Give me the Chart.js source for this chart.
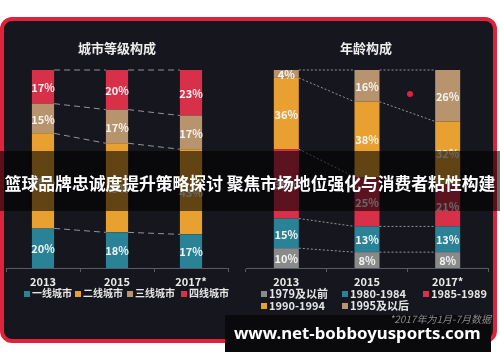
<!DOCTYPE html>
<html><head><meta charset="utf-8">
<script src="https://cdn.jsdelivr.net/npm/chart.js@4/dist/chart.umd.min.js"></script>
<style>
html,body{margin:0;padding:0;}
body{width:500px;height:362px;background:#fff;position:relative;overflow:hidden;font-family:"Noto Sans CJK SC","Noto Sans",sans-serif;}
#panel{position:absolute;left:0;top:17px;width:497px;height:326px;box-sizing:border-box;background:#16161e;border:4px solid #e0233a;border-radius:12px;}
canvas{position:absolute;top:0;}
#ca{left:0;}
#cb{left:240px;}
.t{position:absolute;color:#eeeeee;font-weight:bold;white-space:nowrap;line-height:1;}
.title{font-size:13px;top:41px;transform:translateX(-50%);}
.sq{position:absolute;width:6px;height:6px;}
.lg{position:absolute;color:#e6e6e6;font-weight:bold;white-space:nowrap;line-height:1;}
#banner{position:absolute;left:0;top:151px;width:500px;height:60px;background:rgba(0,0,0,0.58);}
#bannerText{position:absolute;left:-10px;width:520px;top:175px;text-align:center;color:#fff;font-weight:bold;font-size:16.8px;line-height:1;white-space:nowrap;}
#wmbox{position:absolute;left:225px;top:315px;width:266px;height:37px;background:#0a0a0c;}
#wm{position:absolute;left:234px;top:325px;color:#fff;font-family:"Noto Sans",sans-serif;font-weight:bold;font-size:16.8px;line-height:1;white-space:nowrap;}
#note{position:absolute;right:9px;top:314px;color:#8a8a8a;font-style:italic;font-size:10px;line-height:1;white-space:nowrap;}
#dot{position:absolute;left:407px;top:91px;width:6px;height:6px;border-radius:50%;background:#e0233a;}
</style>
</head><body>
<div id="panel"></div>
<canvas id="ca" width="240" height="362"></canvas>
<canvas id="cb" width="260" height="362"></canvas>
<div id="dot"></div>
<div class="t title" style="left:117px;">城市等级构成</div>
<div class="t title" style="left:366px;">年龄构成</div>
<div id="legends"></div>
<div id="banner"></div>
<div id="bannerText">篮球品牌忠诚度提升策略探讨 聚焦市场地位强化与消费者粘性构建</div>
<div id="wmbox"></div>
<div id="note">*2017年为1月-7月数据</div>
<div id="wm">www.net-bobboyusports.com</div>
<script>
// ---- data ----
const cityYears = ['2013', '2015', '2017*'];
const cityTier1 = [20, 18, 17];
const cityTier2 = [48, 45, 43];
const cityTier3 = [15, 17, 17];
const cityTier4 = [17, 20, 23];
const cityNames = ['一线城市', '二线城市', '三线城市', '四线城市'];

const ageYears = ['2013', '2015', '2017*'];
const age1979 = [10, 8, 8];
const age1980 = [15, 13, 13];
const age1985 = [35, 25, 21];
const age1990 = [36, 38, 32];
const age1995 = [4, 16, 26];
const ageNames = ['1979及以前', '1980-1984', '1985-1989', '1990-1994', '1995及以后'];

// ---- styles ----
const C_TEAL = '#2a8296', C_ORANGE = '#e8a030', C_TAN = '#b8946e', C_RED = '#d9304a', C_GRAY = '#8a8a8a';
const FONT = '"Noto Sans CJK SC","Noto Sans",sans-serif';

function connector(dash, color) {
  return {
    id: 'conn',
    afterDatasetsDraw(chart) {
      const ctx = chart.ctx;
      ctx.save();
      ctx.setLineDash(dash);
      ctx.strokeStyle = color;
      ctx.lineWidth = 1;
      chart.data.datasets.forEach((ds, di) => {
        const meta = chart.getDatasetMeta(di);
        for (let i = 0; i < meta.data.length - 1; i++) {
          const a = meta.data[i], b = meta.data[i + 1];
          ctx.beginPath();
          ctx.moveTo(a.x + a.width / 2, a.y);
          ctx.lineTo(b.x - b.width / 2, b.y);
          ctx.stroke();
        }
      });
      ctx.restore();
    }
  };
}
const labelPlugin = {
  id: 'lbl',
  afterDatasetsDraw(chart) {
    const ctx = chart.ctx;
    ctx.save();
    ctx.font = 'bold 11px ' + FONT;
    ctx.fillStyle = '#f4f4f4';
    ctx.textAlign = 'center';
    ctx.textBaseline = 'middle';
    chart.data.datasets.forEach((ds, di) => {
      const meta = chart.getDatasetMeta(di);
      meta.data.forEach((el, i) => {
        ctx.fillText(ds.data[i] + '%', el.x, (el.y + el.base) / 2 + 1);
      });
    });
    ctx.restore();
  }
};

function makeChart(id, labels, datasets, dash, padL, padR, barPct) {
  return new Chart(document.getElementById(id), {
    type: 'bar',
    data: { labels, datasets },
    options: {
      responsive: false, animation: false,
      layout: { padding: { left: padL, right: padR, top: 70, bottom: 64 } },
      plugins: { legend: { display: false }, tooltip: { enabled: false } },
      datasets: { bar: { categoryPercentage: 1, barPercentage: barPct } },
      scales: {
        x: {
          stacked: true,
          grid: { display: true, offset: true, drawOnChartArea: false, drawTicks: true, tickLength: 4, color: '#5a5a62' },
          border: { display: true, color: '#5a5a62' },
          ticks: { color: '#eaeaea', font: { size: 11, weight: 'bold', family: FONT }, padding: 3 },
          afterFit(s) { s.height = 30; }
        },
        y: { stacked: true, display: false, min: 0, max: 100 }
      }
    },
    plugins: [connector(dash, 'rgba(190,190,195,0.75)'), labelPlugin]
  });
}

makeChart('ca', cityYears, [
  { label: cityNames[0], data: cityTier1, backgroundColor: C_TEAL },
  { label: cityNames[1], data: cityTier2, backgroundColor: C_ORANGE },
  { label: cityNames[2], data: cityTier3, backgroundColor: C_TAN },
  { label: cityNames[3], data: cityTier4, backgroundColor: C_RED }
], [6, 4], 6, 12, 0.3);

makeChart('cb', ageYears, [
  { label: ageNames[0], data: age1979, backgroundColor: C_GRAY },
  { label: ageNames[1], data: age1980, backgroundColor: C_TEAL },
  { label: ageNames[2], data: age1985, backgroundColor: C_RED },
  { label: ageNames[3], data: age1990, backgroundColor: C_ORANGE },
  { label: ageNames[4], data: age1995, backgroundColor: C_TAN }
], [2, 2], 6, 12, 0.31);

// ---- HTML legends ----
const lg = document.getElementById('legends');
function addLegend(x, y, color, text, size) {
  const s = document.createElement('div');
  s.className = 'sq'; s.style.left = x + 'px'; s.style.top = (y - 3) + 'px'; s.style.background = color;
  lg.appendChild(s);
  const t = document.createElement('div');
  t.className = 'lg'; t.style.left = (x + 8) + 'px'; t.style.top = (y - size / 2 - 1) + 'px'; t.style.fontSize = size + 'px';
  t.textContent = text;
  lg.appendChild(t);
}
const cityColors = [C_TEAL, C_ORANGE, C_TAN, C_RED];
[24, 75, 127, 181].forEach((x, i) => addLegend(x, 294, cityColors[i], cityNames[i], 10));
const ageColors = [C_GRAY, C_TEAL, C_RED, C_ORANGE, C_TAN];
const agePos = [[261, 294], [342, 294], [423, 294], [261, 306], [342, 306]];
agePos.forEach((p, i) => addLegend(p[0], p[1], ageColors[i], ageNames[i], 11));
</script>
</body></html>
